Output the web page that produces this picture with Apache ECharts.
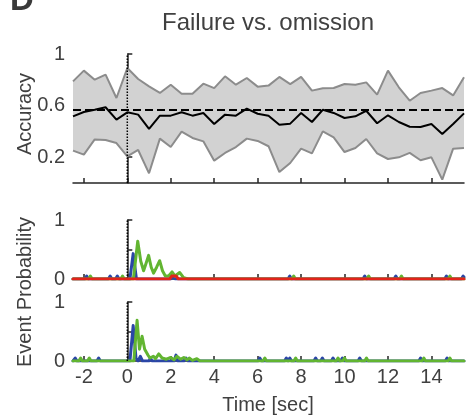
<!DOCTYPE html>
<html>
<head>
<meta charset="utf-8">
<script src="https://cdn.jsdelivr.net/npm/echarts@6/dist/echarts.min.js"></script>
<style>
  html, body { margin: 0; padding: 0; background: #fff; }
  #chart { width: 476px; height: 418px; }
</style>
</head>
<body>
<div id="chart"></div>
<script>
// Decoding accuracy, sampled every 0.5 s
const accTime = [-2.5, -2, -1.5, -1, -0.5, 0, 0.5, 1, 1.5, 2, 2.5, 3, 3.5, 4, 4.5, 5, 5.5, 6, 6.5,
  7, 7.5, 8, 8.5, 9, 9.5, 10, 10.5, 11, 11.5, 12, 12.5, 13, 13.5, 14, 14.5, 15, 15.5];
const accUpper = [0.788, 0.871, 0.801, 0.84, 0.659, 0.891, 0.806, 0.749, 0.698, 0.762, 0.692, 0.692, 0.77, 0.736, 0.827, 0.762, 0.814, 0.747, 0.755,
  0.822, 0.767, 0.822, 0.716, 0.734, 0.736, 0.767, 0.762, 0.78, 0.685, 0.871, 0.742, 0.638, 0.698, 0.716, 0.736, 0.679, 0.819];
const accLower = [0.251, 0.22, 0.338, 0.333, 0.31, 0.207, 0.256, 0.075, 0.344, 0.279, 0.398, 0.349, 0.323, 0.173, 0.233, 0.279, 0.344, 0.326, 0.285,
  0.085, 0.155, 0.266, 0.23, 0.40, 0.354, 0.24, 0.271, 0.341, 0.23, 0.186, 0.199, 0.233, 0.176, 0.199, 0.026, 0.266, 0.271];
const accMean = [0.517, 0.55, 0.568, 0.587, 0.491, 0.548, 0.53, 0.419, 0.522, 0.522, 0.548, 0.522, 0.543, 0.457, 0.53, 0.522, 0.576, 0.537, 0.522,
  0.452, 0.46, 0.543, 0.473, 0.568, 0.543, 0.504, 0.517, 0.56, 0.463, 0.525, 0.473, 0.436, 0.434, 0.457, 0.38, 0.457, 0.54];
const chanceLevel = 0.565;

// Event probability traces, [time, probability]
const midBlue = [[-2.5,0],[-1.95,0],[-1.87,0.05],[-1.79,0],[-0.87,0],[-0.79,0.05],[-0.71,0],[-0.54,0],[-0.46,0.05],[-0.38,0],
  [0.12,0],[0.27,0.43],[0.42,0],[0.52,0],[0.6,0.03],[0.7,0],[1.0,0],[1.06,0.02],[1.12,0],[2.0,0],[2.1,0.04],[2.2,0],
  [7.4,0],[7.48,0.05],[7.56,0],[10.85,0],[10.93,0.05],[11.01,0],[12.28,0],[12.36,0.05],[12.44,0],
  [14.61,0],[14.69,0.05],[14.77,0],[15.38,0],[15.46,0.05],[15.5,0.03]];
const midGreen = [[-2.5,0],[-1.78,0],[-1.7,0.05],[-1.62,0],[-0.3,0],[-0.22,0.05],[-0.14,0],
  [0.28,0],[0.48,0.64],[0.62,0.3],[0.75,0.14],[0.85,0.25],[0.98,0.4],[1.1,0.2],[1.21,0.1],[1.35,0.2],[1.49,0.31],
  [1.62,0.14],[1.75,0.05],[1.9,0.05],[2.06,0.12],[2.2,0.05],[2.41,0.11],[2.6,0.02],[2.8,0],
  [7.58,0],[7.66,0.05],[7.74,0],[11.03,0],[11.11,0.05],[11.19,0],[12.54,0],[12.62,0.05],[12.7,0],
  [14.77,0],[14.85,0.05],[14.93,0],[15.5,0]];
const midRed = [[-2.5,0],[1.95,0],[2.05,0.05],[2.25,0.05],[2.35,0],[15.5,0]];

const botBlue = [[-2.5,0],[-2.48,0],[-2.4,0.05],[-2.32,0],[-1.4,0],[-1.32,0.05],[-1.24,0],
  [0.12,0],[0.27,0.6],[0.4,0.05],[0.5,0],[0.6,0.08],[0.7,0],[1.0,0],[1.06,0.05],[1.14,0],
  [2.16,0],[2.24,0.1],[2.32,0],[2.6,0],[2.7,0.05],[2.8,0],
  [6.02,0],[6.1,0.05],[6.18,0],[7.24,0],[7.32,0.05],[7.4,0],[7.48,0.05],[7.56,0],
  [8.59,0],[8.67,0.05],[8.75,0],[8.9,0],[8.98,0.05],[9.06,0],[9.39,0],[9.47,0.05],[9.55,0],
  [9.82,0],[9.9,0.05],[9.98,0],[10.62,0],[10.7,0.05],[10.78,0],[13.42,0],[13.5,0.05],[13.58,0],
  [14.64,0],[14.72,0.05],[14.8,0],[15.5,0]];
const botGreen = [[-2.5,0],[-2.23,0],[-2.15,0.05],[-2.07,0],[-1.83,0],[-1.75,0.05],[-1.67,0],
  [0.3,0],[0.45,0.69],[0.56,0.2],[0.68,0.42],[0.8,0.2],[0.95,0.1],[1.05,0.05],[1.2,0.08],[1.3,0.04],
  [1.45,0.12],[1.6,0.05],[1.8,0.03],[2.0,0.06],[2.15,0.02],[2.29,0.08],[2.45,0.03],[2.6,0.06],
  [2.75,0.02],[2.85,0.05],[3.0,0.01],[3.2,0.04],[3.35,0],
  [6.25,0],[6.33,0.05],[6.41,0],[7.67,0],[7.75,0.05],[7.83,0],[9.62,0],[9.7,0.05],[9.78,0],
  [9.92,0],[10.0,0.05],[10.08,0],[10.93,0],[11.01,0.05],[11.09,0],[13.57,0],[13.65,0.05],[13.73,0],
  [14.77,0],[14.85,0.05],[14.93,0],[15.5,0]];

// Axis ticks and labels
const timeTicks = [-2, 0, 2, 4, 6, 8, 10, 12, 14];
const accTicks = [0.2, 0.4, 0.6, 0.8, 1];
const accLabels = [0.2, 0.6, 1];
const probTicks = [0, 0.5, 1];
const probLabels = [0, 1];
const tMin = -2.5, tMax = 15.5;

const AXIS = '#262626';
const TEXT = '#404040';
const FONT = 'Liberation Sans, Arial, sans-serif';
const BLUE = '#2b46a6';
const GREEN = '#62b531';
const RED = '#e2231a';

function xAxis(gridIndex, showLabels) {
  return {
    type: 'value', gridIndex, min: tMin, max: tMax,
    axisLine: { show: true, lineStyle: { color: AXIS, width: 1.5 } },
    axisTick: { show: true, inside: true, length: 5, customValues: timeTicks, lineStyle: { color: AXIS, width: 1.5 } },
    axisLabel: { show: showLabels, customValues: timeTicks, color: TEXT, fontSize: 20, fontFamily: FONT, margin: 6 },
    splitLine: { show: false }
  };
}
function yAxis(gridIndex, ticks, labels) {
  return {
    type: 'value', gridIndex, min: 0, max: 1,
    axisLine: { show: true, lineStyle: { color: AXIS, width: 1.5 } },
    axisTick: { show: true, inside: true, length: 5, customValues: ticks, lineStyle: { color: AXIS, width: 1.5 } },
    axisLabel: { show: true, customValues: labels, color: TEXT, fontSize: 20, fontFamily: FONT, margin: 8 },
    splitLine: { show: false }
  };
}
function zeroLine(xi) {
  return {
    type: 'line', xAxisIndex: xi, yAxisIndex: xi, data: [[0, 0], [0, 1]],
    symbol: 'none', silent: true, z: 5,
    lineStyle: { color: '#000', width: 1.5, type: [1.5, 1.5] }
  };
}
function trace(xi, data, color, z) {
  return {
    type: 'line', xAxisIndex: xi, yAxisIndex: xi, data, symbol: 'none', z,
    lineStyle: { color, width: 3, cap: 'round', join: 'round' }, clip: true
  };
}

const pair = (ys) => accTime.map((t, i) => [t, ys[i]]);

// Shaded band: one polygon running along the upper bound and back along the lower bound
function renderBand(params, api) {
  if (params.dataIndex !== 0) return null;
  const pts = [];
  for (let i = 0; i < accTime.length; i++) pts.push(api.coord([accTime[i], accUpper[i]]));
  for (let i = accTime.length - 1; i >= 0; i--) pts.push(api.coord([accTime[i], accLower[i]]));
  return {
    type: 'polygon',
    shape: { points: pts },
    style: { fill: '#d2d2d2', stroke: 'none' }
  };
}

const chart = echarts.init(document.getElementById('chart'), null, { renderer: 'canvas' });
chart.setOption({
  animation: false,
  title: {
    text: 'Failure vs. omission', left: 263, top: 6, textAlign: 'center',
    textStyle: { color: TEXT, fontSize: 24, fontWeight: 'normal', fontFamily: FONT }
  },
  grid: [
    { left: 73, right: 12, top: 54, height: 129 },
    { left: 73, right: 12, top: 220, height: 59 },
    { left: 73, right: 12, top: 302, height: 59 }
  ],
  xAxis: [xAxis(0, false), xAxis(1, false), xAxis(2, true)],
  yAxis: [yAxis(0, accTicks, accLabels), yAxis(1, probTicks, probLabels), yAxis(2, probTicks, probLabels)],
  graphic: [
    { type: 'text', left: 10, top: -16, style: { text: 'D', fill: '#3a3a3a', font: 'bold 33px ' + FONT } },
    { type: 'text', x: 25, y: 114, rotation: Math.PI / 2, style: { text: 'Accuracy', fill: TEXT, font: '20px ' + FONT, align: 'center', verticalAlign: 'middle' } },
    { type: 'text', x: 25, y: 292, rotation: Math.PI / 2, style: { text: 'Event Probability', fill: TEXT, font: '20px ' + FONT, align: 'center', verticalAlign: 'middle' } },
    { type: 'text', x: 268, y: 405, style: { text: 'Time [sec]', fill: TEXT, font: '20px ' + FONT, align: 'center', verticalAlign: 'middle' } }
  ],
  series: [
    { type: 'custom', xAxisIndex: 0, yAxisIndex: 0, data: pair(accUpper), renderItem: renderBand, clip: true, z: 1, silent: true },
    { type: 'line', xAxisIndex: 0, yAxisIndex: 0, data: pair(accUpper), symbol: 'none',
      lineStyle: { color: '#8c8c8c', width: 2 }, z: 2 },
    { type: 'line', xAxisIndex: 0, yAxisIndex: 0, data: pair(accLower), symbol: 'none',
      lineStyle: { color: '#8c8c8c', width: 2 }, z: 2 },
    { type: 'line', xAxisIndex: 0, yAxisIndex: 0, data: [[tMin, chanceLevel], [tMax, chanceLevel]], symbol: 'none',
      lineStyle: { color: '#000', width: 2, type: [8, 4] }, z: 3 },
    { type: 'line', xAxisIndex: 0, yAxisIndex: 0, data: pair(accMean), symbol: 'none',
      lineStyle: { color: '#000', width: 2 }, z: 4 },
    zeroLine(0),
    zeroLine(1),
    trace(1, midBlue, BLUE, 3),
    trace(1, midGreen, GREEN, 4),
    trace(1, midRed, RED, 6),
    zeroLine(2),
    trace(2, botBlue, BLUE, 3),
    trace(2, botGreen, GREEN, 4)
  ]
});
</script>
</body>
</html>
